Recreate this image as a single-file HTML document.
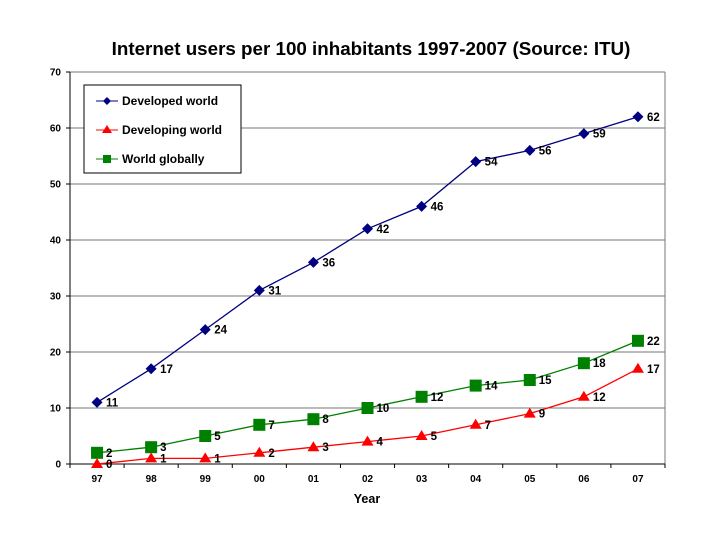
<!DOCTYPE html>
<html><head><meta charset="utf-8"><style>
html,body{margin:0;padding:0;background:#fff;}
svg text{font-family:"Liberation Sans",Arial,sans-serif;font-weight:bold;}
</style></head><body>
<svg id="chart" width="720" height="540" xmlns="http://www.w3.org/2000/svg">
<text x="371" y="55" text-anchor="middle" font-size="18.8" fill="#000">Internet users per 100 inhabitants 1997-2007 (Source: ITU)</text>
<g id="grid"></g><g id="axes"></g><g id="series"></g>
<text x="367" y="503" text-anchor="middle" font-size="12.5">Year</text>
<g>
<rect x="84" y="85" width="157" height="88" fill="#fff" stroke="#000" stroke-width="1"/>
<g><line x1="96" y1="101" x2="118" y2="101" stroke="#000080"/><path d="M107 97 L111 101 L107 105 L103 101Z" fill="#000080"/><text x="122" y="105" font-size="12">Developed world</text></g>
<g><line x1="96" y1="130" x2="118" y2="130" stroke="#ff0000"/><path d="M107 125 L112 133 L102 133Z" fill="#ff0000"/><text x="122" y="134" font-size="12">Developing world</text></g>
<g><line x1="96" y1="159" x2="118" y2="159" stroke="#008000"/><rect x="103" y="155" width="8" height="8" fill="#008000"/><text x="122" y="163" font-size="12">World globally</text></g>
</g>
</svg>
<script>
const years=["97","98","99","00","01","02","03","04","05","06","07"];
const developed=[11,17,24,31,36,42,46,54,56,59,62];
const developing=[0,1,1,2,3,4,5,7,9,12,17];
const world=[2,3,5,7,8,10,12,14,15,18,22];
const yTicks=[0,10,20,30,40,50,60,70];
const NS="http://www.w3.org/2000/svg";
const L=70,R=665,T=72,B=464,yMax=70;
const band=(R-L)/years.length;
function xs(i){return L+band*(i+0.5);}
function ys(v){return B-(v/yMax)*(B-T);}
function mk(tag,attrs,parent,txt){const e=document.createElementNS(NS,tag);for(const k in attrs)e.setAttribute(k,attrs[k]);if(txt!==undefined)e.textContent=txt;parent.appendChild(e);return e;}
const grid=document.getElementById('grid'),axes=document.getElementById('axes'),ser=document.getElementById('series');
yTicks.forEach(v=>{
 if(v>0){const g=mk('line',{x1:L,x2:R,y1:ys(v),y2:ys(v),stroke:'#777','stroke-width':1},grid);
 
 }
 mk('line',{x1:L-4,x2:L,y1:ys(v),y2:ys(v),stroke:'#000'},axes);
 const t=mk('text',{x:L-9,y:ys(v)+3.5,'text-anchor':'end','font-size':10},axes,String(v));
 
 
});
mk('line',{x1:R,x2:R,y1:T,y2:B,stroke:'#777'},axes);
mk('line',{x1:L,x2:L,y1:T,y2:B,stroke:'#000'},axes);
mk('line',{x1:L,x2:R,y1:B,y2:B,stroke:'#000'},axes);
for(let i=0;i<=years.length;i++)mk('line',{x1:L+band*i,x2:L+band*i,y1:B,y2:B+4,stroke:'#000'},axes);
years.forEach((y,i)=>{const t=mk('text',{x:xs(i),y:B+18,'text-anchor':'middle','font-size':10},axes,y);
 
 });
function series(data,color,shape,name){
 const g=mk('g',{},ser);
 
 
 mk('polyline',{points:data.map((v,i)=>xs(i)+','+ys(v)).join(' '),fill:'none',stroke:color,'stroke-width':1.3},g);
 data.forEach((v,i)=>{
  const x=xs(i),y=ys(v);let m;
  if(shape==='d')m=mk('path',{d:`M${x} ${y-5.5}L${x+5.5} ${y}L${x} ${y+5.5}L${x-5.5} ${y}Z`,fill:color},g);
  else if(shape==='t')m=mk('path',{d:`M${x} ${y-6}L${x+6} ${y+4}L${x-6} ${y+4}Z`,fill:color},g);
  else m=mk('rect',{x:x-6,y:y-6,width:12,height:12,fill:color},g);
  
  
  const t=mk('text',{x:x+9,y:y+4,'font-size':11.5},g,String(v));
  
  
 });
}
series(developed,'#000080','d','developed');
series(world,'#008000','s','world');
series(developing,'#ff0000','t','developing');
</script>
</body></html>
